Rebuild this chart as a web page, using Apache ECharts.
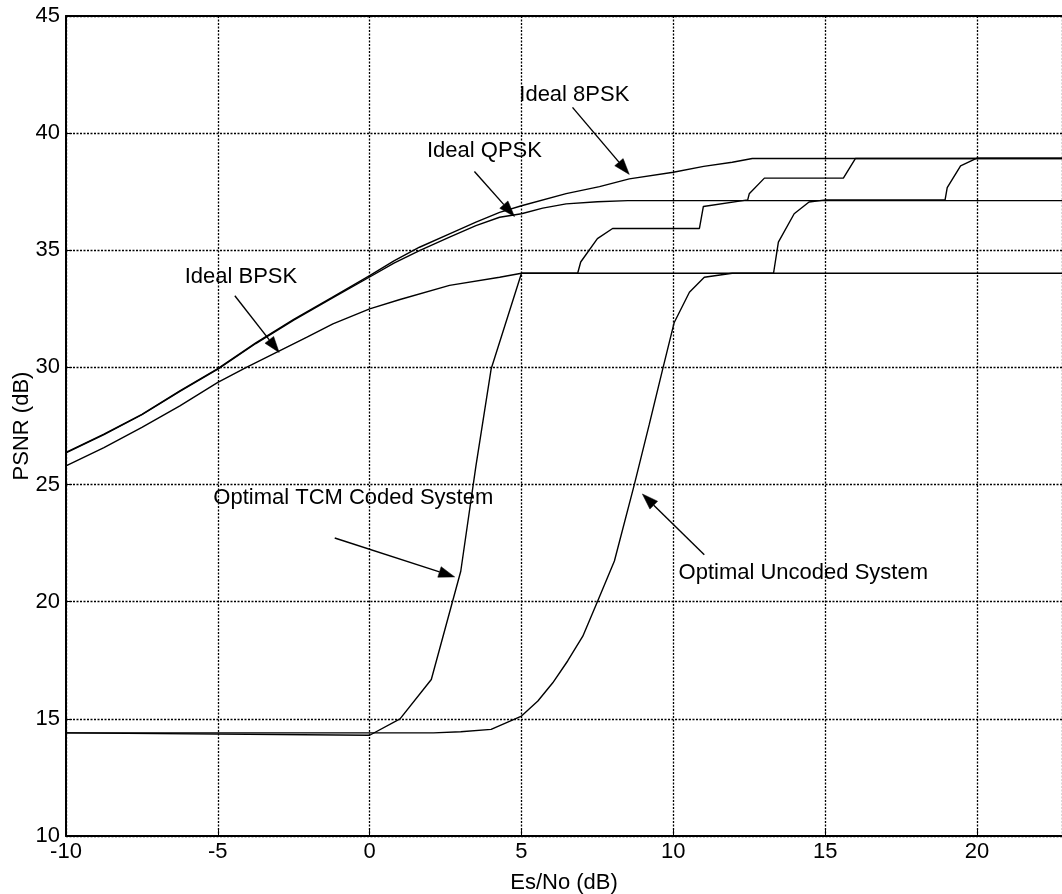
<!DOCTYPE html>
<html>
<head>
<meta charset="utf-8">
<script src="https://cdn.jsdelivr.net/npm/echarts@6/dist/echarts.min.js"></script>
<style>
html,body{margin:0;padding:0;background:#fff;}
#c{width:1062px;height:894px;}
</style>
</head>
<body>
<div id="c"></div>
<script>
// ---- axis setup ----
const xMin = -10, xMax = 22.8, xStep = 5;
const yMin = 10, yMax = 45, yStep = 5;
const xTitle = 'Es/No (dB)';
const yTitle = 'PSNR (dB)';

// ---- series values [Es/No, PSNR] ----
const ideal8PSK = [[-10,26.37],[-8.75,27.15],[-7.5,28.0],[-6.25,29.0],[-5,29.95],[-3.75,31.05],[-2.5,32.05],[-1.25,32.98],[0,33.92],[0.8,34.55],[1.64,35.13],[2.63,35.7],[3.5,36.2],[4.28,36.62],[5,36.9],[6.47,37.42],[7.57,37.72],[8.55,38.05],[10,38.33],[11,38.58],[11.94,38.76],[12.6,38.92],[22.8,38.92]];
const idealQPSK = [[-10,26.35],[-8.75,27.13],[-7.5,27.98],[-6.25,28.98],[-5,29.93],[-3.75,31.02],[-2.5,32.02],[-1.25,32.95],[0,33.86],[0.8,34.45],[1.64,34.99],[2.63,35.56],[3.5,36.05],[4.28,36.41],[5,36.56],[5.7,36.8],[6.47,36.98],[7.5,37.07],[8.5,37.12],[22.8,37.12]];
const idealBPSK = [[-10,25.8],[-8.75,26.58],[-7.5,27.44],[-6.25,28.36],[-5,29.36],[-4.06,30.0],[-3.07,30.64],[-2.08,31.28],[-1.21,31.86],[0,32.5],[1,32.9],[2.63,33.5],[4.28,33.85],[5,34.02],[22.8,34.02]];
const optimalTCM = [[-10,14.4],[0,14.3],[1,15.0],[2.03,16.68],[3,21.3],[3.5,25.8],[4,29.93],[5,34.02],[6.85,34.02],[6.95,34.5],[7.5,35.5],[8,35.93],[10.86,35.93],[10.99,36.87],[12.45,37.15],[12.5,37.41],[13.0,38.08],[15.6,38.08],[16.0,38.92],[22.8,38.92]];
const optimalUncoded = [[-10,14.4],[2.1,14.4],[3,14.45],[4,14.55],[5,15.12],[5.54,15.76],[6.03,16.54],[6.52,17.47],[7.02,18.53],[7.51,20.03],[8.06,21.74],[8.72,25.02],[9.21,27.58],[9.65,29.93],[10.03,31.92],[10.53,33.21],[11.02,33.85],[11.94,34.02],[13.3,34.02],[13.46,35.35],[13.98,36.56],[14.47,37.06],[15.02,37.15],[18.95,37.15],[19.02,37.67],[19.46,38.6],[20.0,38.93],[22.8,38.93]];

// ---- annotations ----
const labelTexts = ['Ideal 8PSK','Ideal QPSK','Ideal BPSK','Optimal TCM Coded System','Optimal Uncoded System'];
const labelPos = [[6.74,41.65],[3.78,39.26],[-4.24,33.85],[-0.54,24.45],[14.28,21.23]];
const arrowFrom = [[6.68,41.10],[3.45,38.36],[-4.44,33.06],[-1.15,22.72],[11.02,22.0]];
const arrowTo   = [[8.55,38.24],[4.77,36.44],[-2.98,30.64],[2.80,21.06],[8.98,24.60]];

const FONT = '"Liberation Sans", Arial, sans-serif';
const FS = 22;

const chart = echarts.init(document.getElementById('c'), null, {renderer:'canvas'});

function curve(name, data){
  return {
    name, type:'line', data, showSymbol:false, symbol:'none',
    lineStyle:{color:'#000', width:1.4}, itemStyle:{color:'#000'},
    animation:false, silent:true, z:3
  };
}

const gridLine = {show:true, lineStyle:{color:'#000', width:1.3, type:[2,1.5]}};

const option = {
  backgroundColor:'#fff',
  animation:false,
  grid:{left:66, right:0, top:16, bottom:58, containLabel:false, outerBoundsMode:'none'},
  xAxis:[{
    type:'value', min:xMin, max:xMax, interval:xStep,
    name:xTitle, nameLocation:'middle', nameGap:36, nameMoveOverlap:false,
    nameTextStyle:{color:'#000', fontSize:FS, fontFamily:FONT},
    axisLine:{show:true, onZero:false, lineStyle:{color:'#000', width:2}},
    axisTick:{show:true, inside:true, length:6, lineStyle:{color:'#000', width:1}},
    axisLabel:{color:'#000', fontSize:FS, fontFamily:FONT, margin:5, showMaxLabel:false,
      formatter:v => (Math.abs(v % xStep) < 1e-9 ? String(v) : '')},
    splitLine:gridLine
  },{
    type:'value', position:'top', min:xMin, max:xMax, interval:xStep,
    axisLine:{show:true, onZero:false, lineStyle:{color:'#000', width:2}},
    axisTick:{show:false}, axisLabel:{show:false}, splitLine:{show:false}
  }],
  yAxis:{
    type:'value', min:yMin, max:yMax, interval:yStep,
    name:yTitle, nameLocation:'middle', nameGap:33, nameRotate:90, nameMoveOverlap:false,
    nameTextStyle:{color:'#000', fontSize:FS, fontFamily:FONT},
    axisLine:{show:true, onZero:false, lineStyle:{color:'#000', width:2}},
    axisTick:{show:true, inside:true, length:6, lineStyle:{color:'#000', width:1}},
    axisLabel:{color:'#000', fontSize:FS, fontFamily:FONT, margin:6},
    splitLine:gridLine
  },
  series:[
    curve('Ideal 8PSK', ideal8PSK),
    curve('Ideal QPSK', idealQPSK),
    curve('Ideal BPSK', idealBPSK),
    curve('Optimal TCM Coded System', optimalTCM),
    curve('Optimal Uncoded System', optimalUncoded),
    {
      type:'custom', name:'arrows', silent:true, animation:false, z:5,
      data: arrowFrom.map((f,i)=>[f[0],f[1],arrowTo[i][0],arrowTo[i][1]]),
      renderItem:(params, api)=>{
        const p1 = api.coord([api.value(0), api.value(1)]);
        const p2 = api.coord([api.value(2), api.value(3)]);
        const dx = p2[0]-p1[0], dy = p2[1]-p1[1];
        const len = Math.sqrt(dx*dx+dy*dy);
        const ux = dx/len, uy = dy/len;
        const hl = 16, hw = 5.5;
        const bx = p2[0]-ux*hl, by = p2[1]-uy*hl;
        return {
          type:'group',
          children:[
            {type:'line', shape:{x1:p1[0], y1:p1[1], x2:bx, y2:by},
             style:{stroke:'#000', lineWidth:1.4}},
            {type:'polygon', shape:{points:[[p2[0],p2[1]],[bx-uy*hw, by+ux*hw],[bx+uy*hw, by-ux*hw]]},
             style:{fill:'#000', stroke:'#000', lineWidth:0.5}}
          ]
        };
      }
    },
    {
      type:'custom', name:'labels', silent:true, animation:false, z:6,
      data: labelPos.map((p,i)=>[p[0],p[1],i]),
      renderItem:(params, api)=>{
        const p = api.coord([api.value(0), api.value(1)]);
        return {
          type:'text', x:p[0], y:p[1],
          style:{text:labelTexts[api.value(2)], fill:'#000', fontSize:FS, fontFamily:FONT,
                 align:'center', verticalAlign:'middle'}
        };
      }
    }
  ]
};
chart.setOption(option);
</script>
</body>
</html>
